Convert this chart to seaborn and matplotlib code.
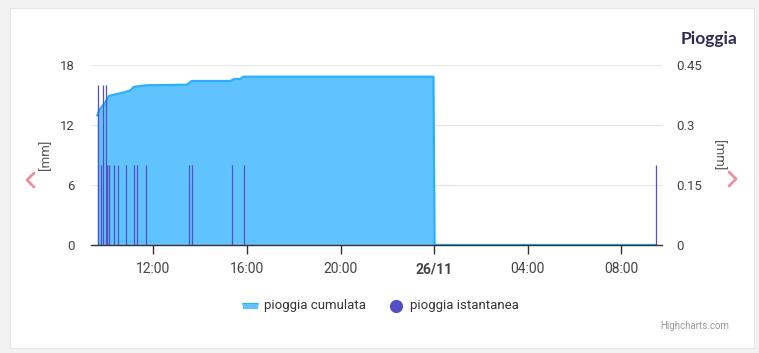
import matplotlib
matplotlib.use("Agg")
import matplotlib.pyplot as plt
from matplotlib.patches import Rectangle
from matplotlib.lines import Line2D
import seaborn as sns
import pandas as pd

# ---- data ----
cum_times = ["2023-11-25 09:36", "2023-11-25 09:43", "2023-11-25 09:57", "2023-11-25 10:06",
             "2023-11-25 10:19", "2023-11-25 10:31", "2023-11-25 10:48", "2023-11-25 11:01",
             "2023-11-25 11:10", "2023-11-25 11:40", "2023-11-25 13:26", "2023-11-25 13:38",
             "2023-11-25 15:17", "2023-11-25 15:27", "2023-11-25 15:43", "2023-11-25 15:50",
             "2023-11-25 23:58", "2023-11-26 00:01", "2023-11-26 09:30"]
cum_values = [12.95, 13.6, 14.3, 14.9, 15.03, 15.13, 15.3, 15.47, 15.8, 15.97, 16.03, 16.4,
              16.4, 16.6, 16.6, 16.83, 16.83, 0.0, 0.0]

inst_times = ["2023-11-25 09:39", "2023-11-25 09:45", "2023-11-25 09:50", "2023-11-25 09:58",
              "2023-11-25 10:01", "2023-11-25 10:05", "2023-11-25 10:07", "2023-11-25 10:20",
              "2023-11-25 10:28", "2023-11-25 10:49", "2023-11-25 11:09", "2023-11-25 11:17",
              "2023-11-25 11:40", "2023-11-25 13:32", "2023-11-25 13:40", "2023-11-25 15:21",
              "2023-11-25 15:51", "2023-11-26 09:29"]
inst_values = [0.4, 0.2, 0.4, 0.4, 0.2, 0.2, 0.2, 0.2, 0.2, 0.2, 0.2, 0.2, 0.2, 0.2, 0.2,
               0.2, 0.2, 0.2]

left_ticks = [0, 6, 12, 18]
right_ticks = [0, 0.15, 0.3, 0.45]
right_tick_labels = ["0", "0.15", "0.3", "0.45"]
x_tick_times = ["2023-11-25 12:00", "2023-11-25 16:00", "2023-11-25 20:00",
                "2023-11-26 00:00", "2023-11-26 04:00", "2023-11-26 08:00"]
x_tick_labels = ["12:00", "16:00", "20:00", "26/11", "04:00", "08:00"]
x_range = ["2023-11-25 09:20", "2023-11-26 09:44"]

title = "Pioggia"
series_names = ["pioggia cumulata", "pioggia istantanea"]
y_label = "[mm]"

# ---- style ----
sns.set_theme(style="white")
plt.rcParams["font.family"] = ["Roboto", "DejaVu Sans"]

C_AREA_LINE = "#2caffe"
C_AREA_FILL = "#61c3fe"
C_BAR = "#544fc5"
C_TEXT = "#444444"

cum = pd.DataFrame({"time": pd.to_datetime(cum_times), "value": cum_values})
inst = pd.DataFrame({"time": pd.to_datetime(inst_times), "value": inst_values})

fig = plt.figure(figsize=(7.59, 3.53), dpi=100)
fig.patch.set_facecolor("#f2f2f2")
card = Rectangle((10 / 759, 1 - 348 / 353), 744 / 759, 340 / 353,
                 transform=fig.transFigure, facecolor="white",
                 edgecolor="#e6e6e6", linewidth=0.8, zorder=-5)
fig.patches.append(card)

ax = fig.add_axes([91 / 759, 1 - 245 / 353, 571 / 759, 180 / 353])
ax.set_facecolor("none")
ax2 = ax.twinx()
ax2.set_facecolor("none")

# gridlines
for t in left_ticks:
    ax.axhline(t, color="#e6e6e6", linewidth=0.8, zorder=0)

# cumulative area
ax.fill_between(cum["time"], cum["value"], 0, color=C_AREA_FILL, linewidth=0, zorder=1)
sns.lineplot(data=cum, x="time", y="value", ax=ax, color=C_AREA_LINE, linewidth=1.6,
             zorder=2, legend=False)

# instantaneous bars
ax2.vlines(inst["time"], 0, inst["value"], color=C_BAR, linewidth=0.9, zorder=3)

xmin, xmax = pd.to_datetime(x_range)
ax.set_xlim(xmin, xmax)
ax.set_ylim(0, 18)
ax2.set_ylim(0, 0.45)

ax.set_yticks(left_ticks)
ax.set_yticklabels([str(t) for t in left_ticks])
ax2.set_yticks(right_ticks)
ax2.set_yticklabels(right_tick_labels)
ax.set_xticks(pd.to_datetime(x_tick_times))
ax.set_xticklabels(x_tick_labels)
for lbl in ax.get_xticklabels():
    if lbl.get_text() == "26/11":
        lbl.set_fontweight("bold")
        lbl.set_fontsize(8)

ax.tick_params(axis="y", length=0, pad=11.5, labelsize=9.5, labelcolor=C_TEXT)
ax2.tick_params(axis="y", length=0, pad=10.5, labelsize=9.5, labelcolor=C_TEXT)
ax.tick_params(axis="x", length=6.5, width=1, color="#333333", direction="out",
               pad=6, labelsize=10, labelcolor=C_TEXT, bottom=True)

for a in (ax, ax2):
    for s in ["left", "right", "top", "bottom"]:
        a.spines[s].set_visible(False)
ax.spines["bottom"].set_visible(True)
ax.spines["bottom"].set_color("#333333")
ax.spines["bottom"].set_linewidth(1)

ax.set_xlabel("")
ax.set_ylabel("")
ax2.set_ylabel("")

# axis titles
fig.text(46 / 759, 1 - 155 / 353, y_label, rotation=90, ha="center", va="center",
         fontsize=9.5, color="#555555")
fig.text(718 / 759, 1 - 155 / 353, y_label, rotation=270, ha="center", va="center",
         fontsize=9.5, color="#555555")

# title
fig.text(738 / 759, 1 - 39 / 353, title, ha="right", va="center", fontsize=12.5,
         fontweight="bold", color="#2e2c54", family=["Lato", "DejaVu Sans"])

# navigation arrows
arrow_c = "#ee8f9a"
fig.add_artist(Line2D([34 / 759, 27 / 759, 34 / 759],
                      [1 - 173 / 353, 1 - 180 / 353, 1 - 187 / 353],
                      transform=fig.transFigure, color=arrow_c, linewidth=2))
fig.add_artist(Line2D([729 / 759, 736 / 759, 729 / 759],
                      [1 - 172 / 353, 1 - 179 / 353, 1 - 186 / 353],
                      transform=fig.transFigure, color=arrow_c, linewidth=2))

# legend
ly = 1 - 306 / 353
fig.patches.append(Rectangle((243 / 759, ly - 2.5 / 353), 15 / 759, 5 / 353,
                             transform=fig.transFigure, facecolor=C_AREA_FILL,
                             edgecolor="none", zorder=3))
fig.add_artist(Line2D([243 / 759, 258 / 759], [ly + 2 / 353, ly + 2 / 353],
                      transform=fig.transFigure, color=C_AREA_LINE, linewidth=1.5))
fig.text(264 / 759, ly, series_names[0], ha="left", va="center", fontsize=9.5, color="#333333")
fig.add_artist(Line2D([396 / 759], [ly], transform=fig.transFigure, marker="o",
                      markersize=8.5, color=C_BAR, linestyle="none"))
fig.text(410 / 759, ly, series_names[1], ha="left", va="center", fontsize=9.5, color="#333333")

# credits
fig.text(729 / 759, 1 - 326 / 353, "Highcharts.com", ha="right", va="center",
         fontsize=7, color="#999999")

fig.savefig("out.png", dpi=100, facecolor=fig.get_facecolor())
